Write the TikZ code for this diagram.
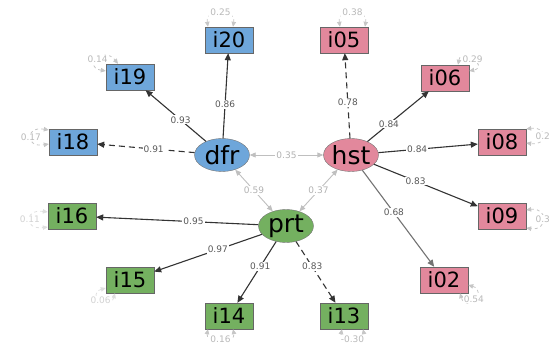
\documentclass[tikz,border=0pt]{standalone}
\usepackage{fontspec}
\setmainfont{DejaVu Sans}
\usetikzlibrary{arrows.meta,positioning,shapes.geometric}
\definecolor{dfrblue}{RGB}{110,166,218}
\definecolor{hstpink}{RGB}{226,136,156}
\definecolor{prtgreen}{RGB}{116,176,96}

\begin{document}
\begin{tikzpicture}[x=1pt, y=1pt,
    item/.style={draw=black!60, rectangle, minimum width=48pt, minimum height=26pt, inner sep=0pt, font=\fontsize{21}{21}\selectfont},
    factor/.style={draw=black!55, ellipse, minimum width=55pt, minimum height=33pt, inner sep=0pt, font=\fontsize{25}{25}\selectfont},
    load/.style={-{Triangle[length=7pt,width=6pt]}, line width=1.1pt, black!80},
    firstload/.style={load, dash pattern=on 6pt off 4pt},
    cov/.style={{Triangle[length=6pt,width=5pt]}-{Triangle[length=6pt,width=5pt]}, line width=0.9pt, gray!50},
    varloop/.style={{Triangle[length=5pt,width=4.5pt]}-{Triangle[length=5pt,width=4.5pt]}, dashed, line width=0.8pt, gray!45},
    est/.style={font=\fontsize{9}{9}\selectfont, fill=white, inner sep=1pt, text=black!65},
    varest/.style={font=\fontsize{9}{9}\selectfont, fill=white, inner sep=1pt, text=gray!55}]
    \useasboundingbox (0,0) rectangle (553,347);
    % Latent factors
    \node[factor, fill=dfrblue] (dfr) at (222,192) {dfr};
    \node[factor, fill=hstpink] (hst) at (351,192) {hst};
    \node[factor, fill=prtgreen] (prt) at (286,121) {prt};
    % Indicators
    \node[item, fill=dfrblue] (i20) at (229,307) {i20};
    \node[item, fill=dfrblue] (i19) at (130,270) {i19};
    \node[item, fill=dfrblue] (i18) at (73,205) {i18};
    \node[item, fill=hstpink] (i05) at (344,307) {i05};
    \node[item, fill=hstpink] (i06) at (445,269) {i06};
    \node[item, fill=hstpink] (i08) at (502,205) {i08};
    \node[item, fill=hstpink] (i09) at (502,131) {i09};
    \node[item, fill=hstpink] (i02) at (444,67) {i02};
    \node[item, fill=prtgreen] (i16) at (72,131) {i16};
    \node[item, fill=prtgreen] (i15) at (130,67) {i15};
    \node[item, fill=prtgreen] (i14) at (229,31) {i14};
    \node[item, fill=prtgreen] (i13) at (344,31) {i13};
    % Loadings
    \draw[load] (dfr) -- (i20) node[est, pos=0.4] {0.86};
    \draw[load] (dfr) -- (i19) node[est, pos=0.42] {0.93};
    \draw[firstload] (dfr) -- (i18) node[est, pos=0.42] {0.91};
    \draw[firstload] (hst) -- (i05) node[est, pos=0.42] {0.78};
    \draw[load] (hst) -- (i06) node[est, pos=0.35] {0.84};
    \draw[load] (hst) -- (i08) node[est, pos=0.39] {0.84};
    \draw[load] (hst) -- (i09) node[est, pos=0.4] {0.83};
    \draw[load, black!55] (hst) -- (i02) node[est, pos=0.44] {0.68};
    \draw[load] (prt) -- (i16) node[est, pos=0.4] {0.95};
    \draw[load] (prt) -- (i15) node[est, pos=0.41] {0.97};
    \draw[load] (prt) -- (i14) node[est, pos=0.41] {0.91};
    \draw[firstload] (prt) -- (i13) node[est, pos=0.41] {0.83};
    % Factor covariances
    \draw[cov] (dfr) -- (hst) node[est, midway, text=gray!60] {0.35};
    \draw[cov] (dfr) -- (prt) node[est, midway, text=gray!60] {0.59};
    \draw[cov] (hst) -- (prt) node[est, midway, text=gray!60] {0.37};
    % Residual variances
    \draw[varloop] ([xshift=-21pt]i20.north) .. controls +(-3,19) and +(3,19) .. ([xshift=4pt]i20.north) node[varest, pos=0.5] {0.25};
    \draw[varloop] ([yshift=6pt]i19.west) .. controls +(-24,4) and +(-14,18) .. ([xshift=-12pt]i19.north) node[varest, pos=0.5] {0.14};
    \draw[varloop] ([yshift=12pt]i18.west) .. controls +(-24,4) and +(-24,-4) .. ([yshift=-2pt]i18.west) node[varest, pos=0.5] {0.17};
    \draw[varloop] ([xshift=-4pt]i05.north) .. controls +(-3,19) and +(3,19) .. ([xshift=21pt]i05.north) node[varest, pos=0.5] {0.38};
    \draw[varloop] ([xshift=13pt]i06.north) .. controls +(4,20) and +(20,4) .. ([yshift=7pt]i06.east) node[varest, pos=0.5] {0.29};
    \draw[varloop] ([yshift=13pt]i08.east) .. controls +(22,3) and +(22,-3) .. ([yshift=-1pt]i08.east) node[varest, pos=0.5] {0.2};
    \draw[varloop] ([yshift=6pt]i09.east) .. controls +(22,3) and +(22,-3) .. ([yshift=-12pt]i09.east) node[varest, pos=0.5] {0.3};
    \draw[varloop] ([yshift=-5pt]i02.east) .. controls +(20,-6) and +(6,-20) .. ([xshift=16pt]i02.south) node[varest, pos=0.5] {0.54};
    \draw[varloop] ([xshift=-2pt]i13.south) .. controls +(-3,-14) and +(3,-14) .. ([xshift=19pt]i13.south) node[varest, pos=0.5] {-0.30};
    \draw[varloop] ([xshift=-21pt]i14.south) .. controls +(-3,-14) and +(3,-14) .. ([xshift=4pt]i14.south) node[varest, pos=0.5] {0.16};
    \draw[varloop, gray!25] ([yshift=-8pt]i15.west) .. controls +(-20,-6) and +(-6,-20) .. ([xshift=-15pt]i15.south) node[varest, pos=0.5, text=gray!35] {0.06};
    \draw[varloop, gray!25] ([yshift=4pt]i16.west) .. controls +(-24,3) and +(-24,-3) .. ([yshift=-11pt]i16.west) node[varest, pos=0.5, text=gray!35] {0.11};
\end{tikzpicture}
\end{document}
